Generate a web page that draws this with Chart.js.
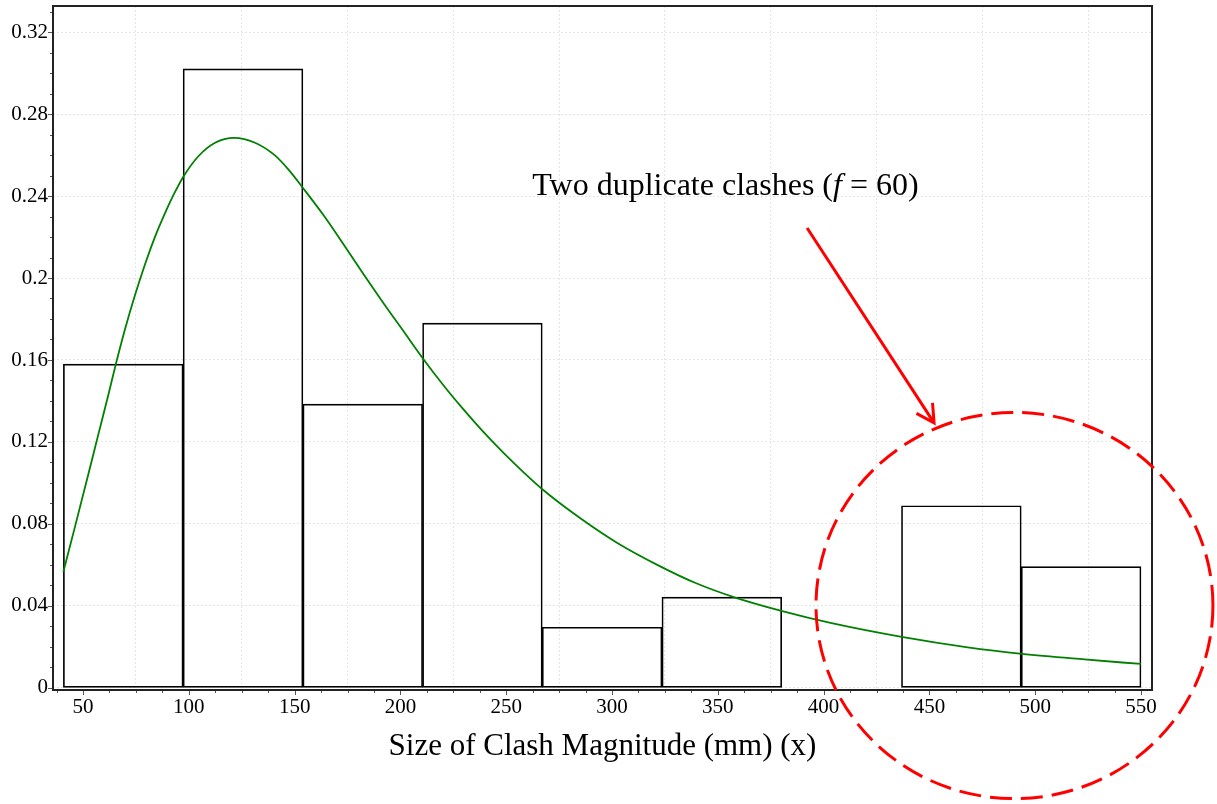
<!DOCTYPE html>
<html><head><meta charset="utf-8">
<script src="https://cdn.jsdelivr.net/npm/chart.js@4.4.0/dist/chart.umd.min.js"></script>
<style>html,body{margin:0;padding:0;background:#fff;}#wrap{width:1217px;height:804px;position:relative;}</style>
</head><body><div id="wrap"><canvas id="c" width="1217" height="804"></canvas></div>
<script>
// ---- data ----
const binEdges = [40.7, 97.3, 153.9, 210.5, 267.0, 323.6, 380.2, 436.8, 493.4, 550];
const binHeights = [0.158, 0.302, 0.1385, 0.178, 0.0296, 0.0443, 0, 0.0889, 0.0592];
const curveX = [40.7, 46.2, 52.5, 57.2, 62.0, 65.5, 69.8, 74.6, 79.3, 84.0, 88.8, 92.7, 97.4, 104.5, 112.4, 121.4, 131.3, 140.7, 147.4, 154.1, 163.6, 173.0, 182.5, 192.0, 201.4, 210.8, 220.3, 229.7, 239.2, 248.6, 258.1, 267.2, 284.7, 302.7, 323.0, 339.5, 357.9, 380.0, 403.8, 436.9, 468.1, 493.9, 523.3, 550];
const curveY = [0.0567, 0.0787, 0.1043, 0.1236, 0.1432, 0.1580, 0.1749, 0.1918, 0.2067, 0.2201, 0.2318, 0.2404, 0.2494, 0.2594, 0.2660, 0.2684, 0.2660, 0.2598, 0.2525, 0.2437, 0.2307, 0.2166, 0.2019, 0.1877, 0.1741, 0.1605, 0.1477, 0.1360, 0.1249, 0.1148, 0.1053, 0.0968, 0.0830, 0.0706, 0.0592, 0.0512, 0.0442, 0.0376, 0.0316, 0.0249, 0.0198, 0.0166, 0.0139, 0.0117];
const xTickValues = [50, 100, 150, 200, 250, 300, 350, 400, 450, 500, 550];
const yTickValues = [0, 0.04, 0.08, 0.12, 0.16, 0.2, 0.24, 0.28, 0.32];
const yTickLabels = ['0', '0.04', '0.08', '0.12', '0.16', '0.2', '0.24', '0.28', '0.32'];
const xMinorStep = 12.5;
const yMinorStep = 0.01;
const xTitle = 'Size of Clash Magnitude (mm) (x)';
const noteParts = ['Two duplicate clashes (', 'f', ' = 60)'];
// annotation geometry in data units
const noteAt = {x: 353.6, y: 0.2405};
const arrowFrom = {x: 392.2, y: 0.2244};
const arrowTo = {x: 452.2, y: 0.1293};
const ring = {x: 490.2, y: 0.0402, rx: 93.8, ry: 0.0942};

const SERIF = "'Liberation Serif', 'Times New Roman', serif";
Chart.defaults.font.family = SERIF;
Chart.defaults.color = '#000';

const barData = binHeights.map((h, i) => ({x: (binEdges[i] + binEdges[i + 1]) / 2, y: h}));
const lineData = curveX.map((x, i) => ({x: x, y: curveY[i]}));

const decor = {
  id: 'decor',
  afterDraw(chart) {
    const ctx = chart.ctx;
    const xs = chart.scales.x, ys = chart.scales.y;
    const a = chart.chartArea;
    ctx.save();
    // minor + major tick marks
    ctx.strokeStyle = '#555';
    ctx.lineWidth = 1;
    ctx.beginPath();
    for (let k = 0; ; k++) {
      const v = Math.round(k * yMinorStep * 1000) / 1000;
      if (v > ys.max) break;
      const p = Math.round(ys.getPixelForValue(v)) + 0.5;
      const major = yTickValues.some(t => Math.abs(t - v) < 1e-9);
      ctx.moveTo(a.left - (major ? 5 : 3), p); ctx.lineTo(a.left, p);
    }
    for (let v = 37.5; v <= xs.max; v += xMinorStep) {
      const p = Math.round(xs.getPixelForValue(v)) + 0.5;
      const major = xTickValues.includes(v);
      ctx.moveTo(p, a.bottom); ctx.lineTo(p, a.bottom + (major ? 5 : 3));
    }
    ctx.stroke();
    // frame
    ctx.strokeStyle = '#222';
    ctx.lineWidth = 2;
    ctx.strokeRect(a.left, a.top, a.right - a.left, a.bottom - a.top);
    // note text
    ctx.fillStyle = '#000';
    ctx.textBaseline = 'alphabetic';
    const fN = '32px ' + SERIF, fI = 'italic 32px ' + SERIF;
    const fonts = [fN, fI, fN];
    let total = 0;
    const widths = noteParts.map((s, i) => { ctx.font = fonts[i]; const w = ctx.measureText(s).width; total += w; return w; });
    let tx = xs.getPixelForValue(noteAt.x) - total / 2;
    const ty = ys.getPixelForValue(noteAt.y);
    ctx.textAlign = 'left';
    noteParts.forEach((s, i) => { ctx.font = fonts[i]; ctx.fillText(s, tx, ty); tx += widths[i]; });
    // arrow
    const x0 = xs.getPixelForValue(arrowFrom.x), y0 = ys.getPixelForValue(arrowFrom.y);
    const x1 = xs.getPixelForValue(arrowTo.x), y1 = ys.getPixelForValue(arrowTo.y);
    ctx.strokeStyle = '#ff0000';
    ctx.lineWidth = 3;
    ctx.beginPath();
    ctx.moveTo(x0, y0); ctx.lineTo(x1, y1);
    const ang = Math.atan2(y1 - y0, x1 - x0);
    const hl = 20, ha = 0.5;
    ctx.moveTo(x1 - hl * Math.cos(ang - ha), y1 - hl * Math.sin(ang - ha));
    ctx.lineTo(x1, y1);
    ctx.lineTo(x1 - hl * Math.cos(ang + ha), y1 - hl * Math.sin(ang + ha));
    ctx.stroke();
    // dashed ring
    const cx = xs.getPixelForValue(ring.x), cy = ys.getPixelForValue(ring.y);
    const rx = Math.abs(xs.getPixelForValue(ring.x + ring.rx) - cx);
    const ry = Math.abs(ys.getPixelForValue(ring.y + ring.ry) - cy);
    ctx.setLineDash([22, 9]);
    ctx.beginPath();
    ctx.ellipse(cx, cy, rx, ry, 0, 0, Math.PI * 2);
    ctx.stroke();
    ctx.restore();
  }
};

new Chart(document.getElementById('c'), {
  type: 'bar',
  data: {
    datasets: [
      {
        type: 'line', data: lineData, order: 0,
        borderColor: '#008000', borderWidth: 1.8, pointRadius: 0,
        cubicInterpolationMode: 'monotone', fill: false
      },
      {
        type: 'bar', data: barData, order: 1,
        backgroundColor: 'rgba(0,0,0,0)', borderColor: '#000', borderWidth: 1,
        borderSkipped: false, barThickness: 'flex',
        barPercentage: 1, categoryPercentage: 1
      }
    ]
  },
  options: {
    responsive: false, animation: false, devicePixelRatio: 1,
    layout: {padding: {left: 0, right: 65, top: 6, bottom: 0}},
    plugins: {legend: {display: false}, tooltip: {enabled: false}},
    scales: {
      x: {
        type: 'linear', min: 35.8, max: 555.2, offset: false,
        afterBuildTicks: s => { s.ticks = xTickValues.map(v => ({value: v})); },
        afterFit: s => { s.height = 114; s.paddingLeft = 0; s.paddingRight = 0; },
        grid: {color: '#e6e6e6', lineWidth: 1, drawTicks: false},
        border: {display: false, dash: [2, 2]},
        ticks: {padding: 5, font: {size: 21}, color: '#000', maxRotation: 0, autoSkip: false,
                callback: v => String(v)},
        title: {display: true, text: xTitle, font: {size: 31}, color: '#000', padding: {top: 0, bottom: 39}}
      },
      y: {
        type: 'linear', min: -0.001, max: 0.3327,
        afterBuildTicks: s => { s.ticks = yTickValues.map(v => ({value: v})); },
        afterFit: s => { s.width = 53; s.paddingTop = 0; s.paddingBottom = 0; },
        grid: {color: '#e6e6e6', lineWidth: 1, drawTicks: false},
        border: {display: false, dash: [2, 2]},
        ticks: {padding: 5, font: {size: 21}, color: '#000', autoSkip: false,
                callback: v => yTickLabels[yTickValues.indexOf(v)] ?? ''}
      }
    }
  },
  plugins: [decor]
});
</script>
</body></html>
